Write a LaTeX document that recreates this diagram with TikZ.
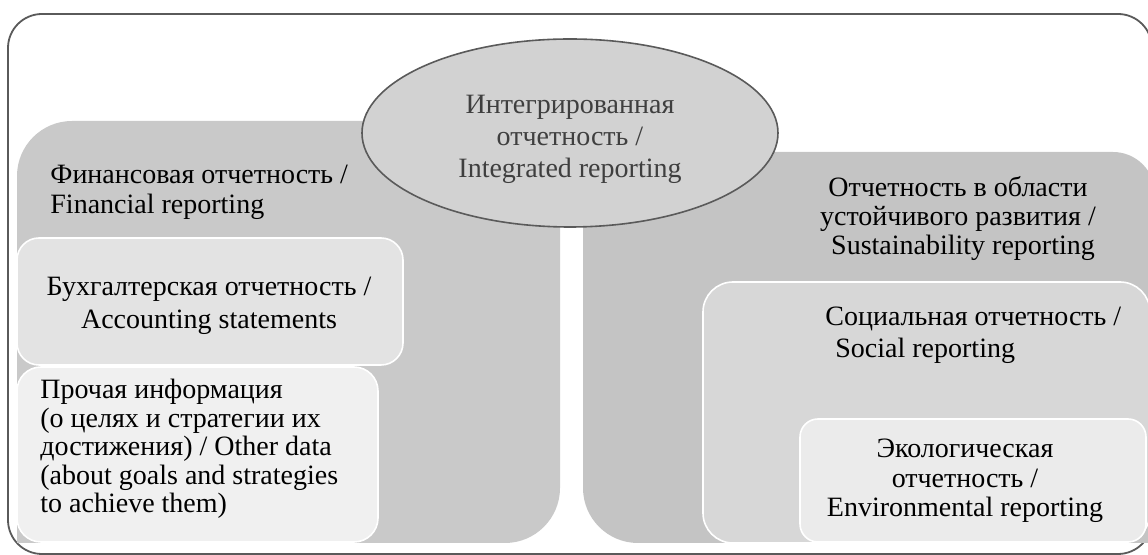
\documentclass[tikz,border=0pt]{standalone}
\usepackage{fontspec}
\setmainfont{Liberation Serif}
\usetikzlibrary{shapes.geometric}

\definecolor{framegray}{HTML}{5A5A5A}
\definecolor{fingray}{HTML}{C9C9C9}
\definecolor{susgray}{HTML}{C4C4C4}
\definecolor{intgray}{HTML}{D2D2D2}
\definecolor{accgray}{HTML}{E3E3E3}
\definecolor{othgray}{HTML}{F0F0F0}
\definecolor{socgray}{HTML}{D7D7D7}
\definecolor{ecogray}{HTML}{EBEBEB}
\definecolor{inttext}{HTML}{3F3F3F}

\begin{document}
\begin{tikzpicture}[x = 0.5pt, y = -0.5pt,
    every node/.style = {inner sep = 0pt, font = \fontsize{14}{16}\selectfont},
    panel/.style = {draw = white, line width = 0.8pt},
    spacing/.style = {font = \fontsize{14}{#1}\selectfont}]
        \useasboundingbox (0,0) rectangle (1148,555);
        \clip (0,0) rectangle (1148,555);
        % outer frame
        \draw[framegray, line width = 0.9pt, rounded corners = 17pt] (8,14) rectangle (1152,554);
        % financial and sustainability panels
        \fill[fingray] (17,543) -- (17,176) arc[start angle = 180, end angle = 270, radius = 55]
            -- (560,121) -- (560,488) arc[start angle = 0, end angle = 90, radius = 55] -- cycle;
        \fill[susgray] (583,152) -- (1113,152) arc[start angle = 270, end angle = 360, radius = 42]
            -- (1155,543) -- (638,543) arc[start angle = 90, end angle = 180, radius = 55] -- cycle;
        % inner panels
        \filldraw[panel, fill = accgray, rounded corners = 11pt] (17,238) rectangle (403,365);
        \filldraw[panel, fill = othgray, rounded corners = 12pt] (17,367) rectangle (378,542);
        \filldraw[panel, fill = socgray, rounded corners = 15pt] (703,282) rectangle (1150,543);
        \filldraw[panel, fill = ecogray, rounded corners = 9pt] (800,419) rectangle (1146,542);
        % integrated reporting
        \node[ellipse, draw = framegray, fill = intgray, line width = 0.8pt,
            minimum width = 208pt, minimum height = 94pt] (intg) at (570,133) {};

        % texts, each placed by the baseline of its last line
        \node[anchor = base west, align = left, spacing = 15pt] (fin) at (50,214)
            {Финансовая отчетность /\\Financial reporting};
        \node[anchor = base, align = center, text = inttext, spacing = 16.1pt] (intgtxt) at (570,178)
            {Интегрированная\\отчетность /\\Integrated reporting};
        \node[anchor = base, align = center, spacing = 14.5pt] (sus) at (958,255)
            {Отчетность в области\\устойчивого развития /\\\hspace{5pt}Sustainability reporting};
        \node[anchor = base, align = center, spacing = 16.5pt] (acc) at (209,329)
            {Бухгалтерская отчетность /\\Accounting statements};
        \node[anchor = base west, align = left, spacing = 14.25pt] (oth) at (40,513)
            {Прочая информация\\(о целях и стратегии их\\достижения) / Other data\\(about goals and strategies\\to achieve them)};
        \node[anchor = base west, align = left, spacing = 16pt] (soc) at (825,358)
            {Социальная отчетность /\\\hspace{5pt}Social reporting};
        \node[anchor = base, align = center, spacing = 14.75pt] (eco) at (965,517)
            {Экологическая\\отчетность /\\Environmental reporting};
\end{tikzpicture}
\end{document}
